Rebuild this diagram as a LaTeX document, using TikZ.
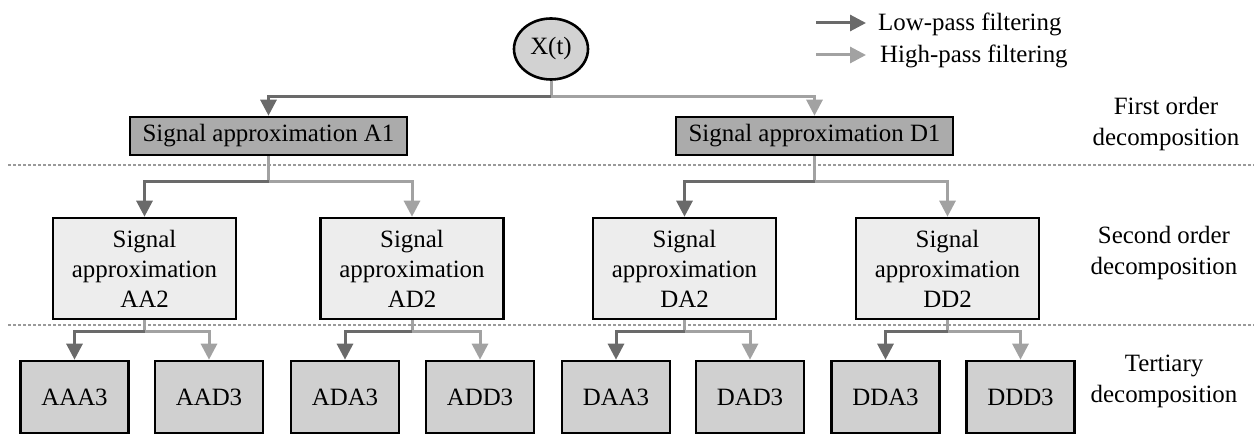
\documentclass[tikz,border=0pt]{standalone}
\usepackage{fontspec}
\setmainfont{Liberation Serif}
\usetikzlibrary{arrows.meta,shapes.geometric}
\definecolor{lowc}{HTML}{6A6A6A}
\definecolor{highc}{HTML}{A2A2A2}
\definecolor{fillone}{HTML}{ABABAB}
\definecolor{filltwo}{HTML}{EDEDED}
\definecolor{fillthree}{HTML}{D0D0D0}
\definecolor{fillsrc}{HTML}{D2D2D2}
\definecolor{sepc}{HTML}{9A9A9A}
\tikzset{
  txt/.style={font=\fontsize{25}{30}\selectfont, align=center},
  box/.style={txt, draw=black, line width=2.6bp, inner sep=0pt},
  lvlone/.style={box, fill=fillone, minimum width=277bp, minimum height=38bp},
  lvltwo/.style={box, fill=filltwo, minimum width=183bp, minimum height=101bp},
  lvlthree/.style={box, fill=fillthree, minimum width=108bp, minimum height=72bp},
  srcnode/.style={txt, ellipse, draw=black, line width=2.6bp, fill=fillsrc,
    minimum width=74bp, minimum height=61bp, inner sep=0pt},
  lp/.style={draw=lowc, line width=3bp, -{Triangle[length=16bp,width=16bp]}},
  hp/.style={draw=highc, line width=3bp, -{Triangle[length=16bp,width=16bp]}},
  sepline/.style={draw=sepc, line width=1.6bp, dash pattern=on 3bp off 2bp},
  sidelabel/.style={font=\fontsize{25}{31}\selectfont, align=center},
}
\begin{document}
\begin{tikzpicture}[x=1bp, y=-1bp]
\useasboundingbox (0,0) rectangle (1254,435);

% level separators
\draw[sepline] (8,165) -- (1254,165);
\draw[sepline] (8,325) -- (1254,325);

% rows where the branches split
\coordinate (row0) at (0,97);
\coordinate (row1) at (0,182);
\coordinate (row2) at (0,332);

% source signal
\node[srcnode] (X) at (551,49) {X(t)};

% first order
\node[lvlone] (A1) at (268.5,136) {Signal approximation A1};
\node[lvlone] (D1) at (814.5,136) {Signal approximation D1};

% second order
\node[lvltwo] (AA2) at (144.5,268.5) {Signal\\approximation\\AA2};
\node[lvltwo] (AD2) at (412,268.5) {Signal\\approximation\\AD2};
\node[lvltwo] (DA2) at (684.5,268.5) {Signal\\approximation\\DA2};
\node[lvltwo] (DD2) at (947.5,268.5) {Signal\\approximation\\DD2};

% third order
\node[lvlthree] (AAA3) at (74.5,397) {AAA3};
\node[lvlthree] (AAD3) at (209,397) {AAD3};
\node[lvlthree] (ADA3) at (345,397) {ADA3};
\node[lvlthree] (ADD3) at (480,397) {ADD3};
\node[lvlthree] (DAA3) at (616,397) {DAA3};
\node[lvlthree] (DAD3) at (750,397) {DAD3};
\node[lvlthree] (DDA3) at (885.5,397) {DDA3};
\node[lvlthree] (DDD3) at (1020.5,397) {DDD3};

% side labels
\node[sidelabel] (lab1) at (1166,124) {First order\\decomposition};
\node[sidelabel] (lab2) at (1164,253) {Second order\\decomposition};
\node[sidelabel] (lab3) at (1164,381) {Tertiary\\decomposition};

% legend
\coordinate (lowa) at (816,23);
\coordinate (lowb) at (866,23);
\coordinate (higha) at (816,55);
\coordinate (highb) at (866,55);
\node[txt, anchor=west, inner sep=0pt] (lowtxt) at (878,24) {Low-pass filtering};
\node[txt, anchor=west, inner sep=0pt] (hightxt) at (880,56) {High-pass filtering};
\draw[lp] (lowa) -- (lowb);
\draw[hp] (higha) -- (highb);

% X(t) -> first order
\draw[hp] (X.south) -- (X.south |- row0) -| (D1.north);
\draw[lp] (X.south |- row0) -| (A1.north);

% first order -> second order
\draw[hp] (A1.south) -- (A1.south |- row1) -| (AD2.north);
\draw[lp] (A1.south |- row1) -| (AA2.north);
\draw[hp] (D1.south) -- (D1.south |- row1) -| (DD2.north);
\draw[lp] (D1.south |- row1) -| (DA2.north);

% second order -> third order
\draw[hp] (AA2.south) -- (AA2.south |- row2) -| (AAD3.north);
\draw[lp] (AA2.south |- row2) -| (AAA3.north);
\draw[hp] (AD2.south) -- (AD2.south |- row2) -| (ADD3.north);
\draw[lp] (AD2.south |- row2) -| (ADA3.north);
\draw[hp] (DA2.south) -- (DA2.south |- row2) -| (DAD3.north);
\draw[lp] (DA2.south |- row2) -| (DAA3.north);
\draw[hp] (DD2.south) -- (DD2.south |- row2) -| (DDD3.north);
\draw[lp] (DD2.south |- row2) -| (DDA3.north);
\end{tikzpicture}
\end{document}
